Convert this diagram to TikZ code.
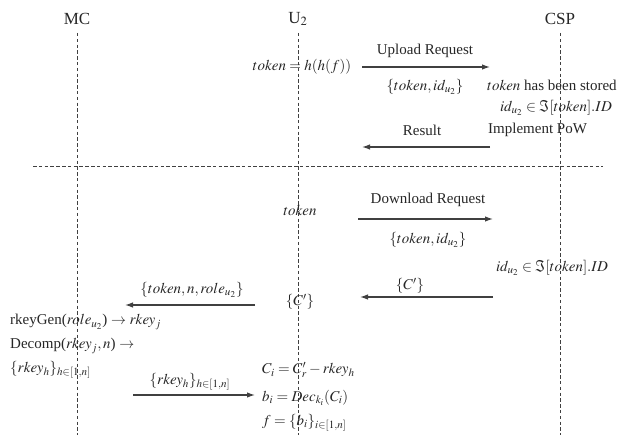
\documentclass[tikz,border=0pt]{standalone}
\usepackage{mathptmx}
\usepackage{fontspec}
\setmainfont{Liberation Serif}
\usetikzlibrary{arrows.meta}
\definecolor{ink}{HTML}{262626}
\definecolor{wire}{HTML}{404040}
\tikzset{
  txt/.style={inner sep=0pt, text=ink, font=\fontsize{15}{17}\selectfont},
  head/.style={inner sep=0pt, text=ink, font=\fontsize{17}{19}\selectfont},
  lifeline/.style={draw=wire, line width=1pt, dash pattern=on 3.5pt off 2.3pt},
  msg/.style={draw=wire, line width=1.2pt, -{Latex[length=8pt,width=5.5pt]}},
}
\begin{document}
\begin{tikzpicture}[x=1pt,y=-1pt]
\useasboundingbox (0,0) rectangle (627,435);

% participants
\node[head] (mc)  at (77,19)  {MC};
\node[head] (u2)  at (298,19) {U$_2$};
\node[head] (csp) at (560,19) {CSP};

% lifelines
\coordinate (mcTop)  at (77,33);   \coordinate (mcEnd)  at (77,435);
\coordinate (u2Top)  at (298,33);  \coordinate (u2End)  at (298,435);
\coordinate (cspTop) at (560,33);  \coordinate (cspEnd) at (560,435);
\draw[lifeline] (mcTop) -- (mcEnd);
\draw[lifeline] (u2Top) -- (u2End);
\draw[lifeline] (cspTop) -- (cspEnd);

% phase separator
\coordinate (divL) at (33,167);
\coordinate (divR) at (603,167);
\draw[lifeline] (divL) -- (divR);

% ---- upload phase ----
\node[txt] (tokgen) at (302,67) {$token = h(h(f))$};
\coordinate (upS) at (362,67);
\coordinate (upE) at (490,67);
\draw[msg] (upS) -- (upE);
\node[txt] (uplbl) at (425,51) {Upload Request};
\node[txt] (upmsg) at (425,87) {$\{token, id_{u_2}\}$};

\node[txt, anchor=west] (stored) at (487,85) {$token$ has been stored};
\node[txt] (member1) at (556,108) {$id_{u_2} \in \Im[token].ID$};
\node[txt, anchor=west] (pow) at (488,130) {Implement PoW};

\coordinate (resS) at (490,147);
\coordinate (resE) at (362,147);
\draw[msg] (resS) -- (resE);
\node[txt] (reslbl) at (422,130) {Result};

% ---- download phase ----
\node[txt] (tok2) at (300,210) {$token$};
\coordinate (dnS) at (358,219);
\coordinate (dnE) at (493,219);
\draw[msg] (dnS) -- (dnE);
\node[txt] (dnlbl) at (428,200) {Download Request};
\node[txt] (dnmsg) at (428,240) {$\{token, id_{u_2}\}$};

\node[txt] (member2) at (552,268) {$id_{u_2} \in \Im[token].ID$};

\coordinate (cS) at (493,297);
\coordinate (cE) at (360,297);
\draw[msg] (cS) -- (cE);
\node[txt] (clbl) at (410,286) {$\{C'\}$};
\node[txt] (cu2) at (300,302) {$\{C'\}$};

\coordinate (rqS) at (255,305);
\coordinate (rqE) at (125,305);
\draw[msg] (rqS) -- (rqE);
\node[txt] (rqlbl) at (192,290) {$\{token, n, role_{u_2}\}$};

\node[txt, anchor=west] (kgen) at (10,322) {rkeyGen($role_{u_2}$) $\rightarrow rkey_j$};
\node[txt, anchor=west] (decomp) at (10,346) {Decomp($rkey_j, n$) $\rightarrow$};
\node[txt, anchor=west] (keys) at (10,370) {$\{rkey_h\}_{h\in[1,n]}$};

\coordinate (kS) at (133,395);
\coordinate (kE) at (255,395);
\draw[msg] (kS) -- (kE);
\node[txt] (klbl) at (190,382) {$\{rkey_h\}_{h\in[1,n]}$};

\node[txt, anchor=west] (ci)  at (262,370) {$C_i = C'_r - rkey_h$};
\node[txt, anchor=west] (bi)  at (262,398) {$b_i = Dec_{k_i}(C_i)$};
\node[txt, anchor=west] (fi)  at (262,423) {$f = \{b_i\}_{i\in[1,n]}$};
\end{tikzpicture}
\end{document}
